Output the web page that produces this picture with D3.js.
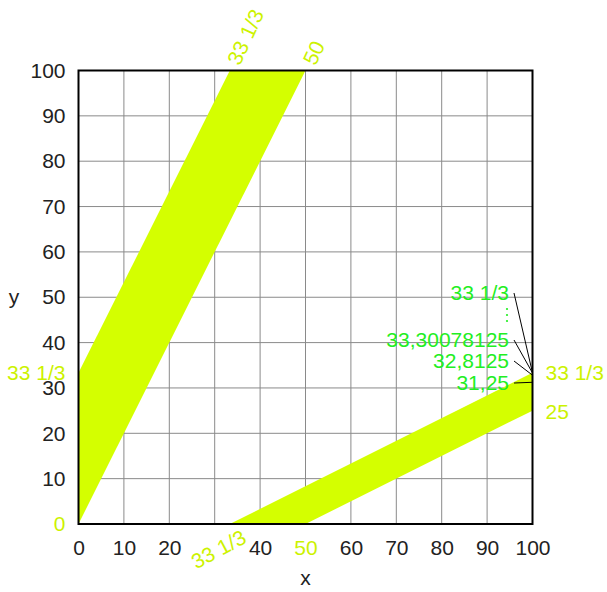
<!DOCTYPE html>
<html>
<head>
<meta charset="utf-8">
<script src="https://cdn.jsdelivr.net/npm/d3@7"></script>
<style>
  html, body { margin: 0; padding: 0; background: #fff; }
  svg { display: block; font-family: "Liberation Sans", Arial, sans-serif; }
</style>
</head>
<body>
<svg id="chart" width="607" height="592"></svg>
<script>
// Band polygons (x, y in data units)
const upperBand = [[0, 0], [0, 100 / 3], [100 / 3, 100], [50, 100]];
const lowerBand = [[100 / 3, 0], [50, 0], [100, 25], [100, 100 / 3]];

// Axis ticks
const xTicks = [0, 10, 20, 30, 40, 50, 60, 70, 80, 90, 100];
const yTicks = [0, 10, 20, 30, 40, 50, 60, 70, 80, 90, 100];
const xHiddenTicks = [30];
const xHighlightTicks = [50];
const yHighlightTicks = [0];

// Corner annotations
const topLabels = [{ v: 100 / 3, text: "33 1/3" }, { v: 50, text: "50" }];
const bottomLabels = [{ v: 100 / 3, text: "33 1/3" }];
const leftLabels = [{ v: 100 / 3, text: "33 1/3" }];
const rightLabels = [{ v: 100 / 3, text: "33 1/3" }, { v: 25, text: "25" }];

// Converging sequence at x = 100
const seqValues = [31.25, 32.8125, 33.30078125, 100 / 3];
const seqTexts = ["31,25", "32,8125", "33,30078125", "33 1/3"];
const seqTextY = [383, 361, 340, 293];

const bandColor = "#d4ff00";
const labelColor = "#ccf200";
const seqColor = "#22ee22";
const tickColor = "#222";
const fs = 21;

const svg = d3.select("#chart");
const pLeft = 78.5, pRight = 532.5, pTop = 70.5, pBottom = 524;
const x = d3.scaleLinear().domain([0, 100]).range([pLeft, pRight]);
const y = d3.scaleLinear().domain([0, 100]).range([pBottom, pTop]);

// Grid
const grid = svg.append("g").attr("stroke", "#8a8a8a").attr("stroke-width", 1);
grid.selectAll(".gx").data(xTicks.slice(1, -1)).join("line")
  .attr("x1", d => x(d)).attr("x2", d => x(d))
  .attr("y1", pTop).attr("y2", pBottom);
grid.selectAll(".gy").data(yTicks.slice(1, -1)).join("line")
  .attr("y1", d => y(d)).attr("y2", d => y(d))
  .attr("x1", pLeft).attr("x2", pRight);

// Bands
const line = d3.line().x(d => x(d[0])).y(d => y(d[1]));
svg.selectAll(".band").data([upperBand, lowerBand]).join("path")
  .attr("d", d => line(d) + "Z")
  .attr("fill", bandColor);

// Frame
svg.append("rect")
  .attr("x", pLeft).attr("y", pTop)
  .attr("width", pRight - pLeft).attr("height", pBottom - pTop)
  .attr("fill", "none").attr("stroke", "#000").attr("stroke-width", 2);

// X axis tick labels
const xAxis = d3.axisBottom(x).tickValues(xTicks.filter(t => !xHiddenTicks.includes(t)))
  .tickSize(0).tickPadding(16);
const gx = svg.append("g").attr("transform", `translate(0,${pBottom})`).call(xAxis);
gx.select(".domain").remove();
gx.selectAll("text")
  .attr("font-size", fs).attr("font-family", "Liberation Sans, Arial, sans-serif")
  .attr("fill", d => xHighlightTicks.includes(d) ? labelColor : tickColor);

// Y axis tick labels
const yAxis = d3.axisLeft(y).tickValues(yTicks).tickSize(0).tickPadding(13);
const gy = svg.append("g").attr("transform", `translate(${pLeft},0)`).call(yAxis);
gy.select(".domain").remove();
gy.selectAll("text")
  .attr("font-size", fs).attr("font-family", "Liberation Sans, Arial, sans-serif")
  .attr("fill", d => yHighlightTicks.includes(d) ? labelColor : tickColor);

// Axis titles
svg.append("text").attr("x", x(50)).attr("y", 585)
  .attr("text-anchor", "middle").attr("font-size", fs).attr("fill", tickColor).text("x");
svg.append("text").attr("x", 14).attr("y", y(50))
  .attr("text-anchor", "middle").attr("dy", "0.3em").attr("font-size", fs).attr("fill", tickColor).text("y");

// Top annotations (rotated)
svg.selectAll(".toplab").data(topLabels).join("text")
  .attr("transform", d => `translate(${x(d.v) + 10},${pTop - 4}) rotate(-65)`)
  .attr("font-size", fs).attr("fill", labelColor).text(d => d.text);

// Bottom annotation (rotated)
svg.selectAll(".botlab").data(bottomLabels).join("text")
  .attr("transform", d => `translate(${x(d.v) + 18},${pBottom + 18}) rotate(-28)`)
  .attr("text-anchor", "end")
  .attr("font-size", fs).attr("fill", labelColor).text(d => d.text);

// Left annotation
svg.selectAll(".leftlab").data(leftLabels).join("text")
  .attr("x", pLeft - 13).attr("y", d => y(d.v)).attr("dy", "0.35em")
  .attr("text-anchor", "end")
  .attr("font-size", fs).attr("fill", labelColor).text(d => d.text);

// Right annotations
svg.selectAll(".rightlab").data(rightLabels).join("text")
  .attr("x", pRight + 13).attr("y", (d, i) => y(d.v) + (i === 1 ? 1 : 0)).attr("dy", "0.35em")
  .attr("font-size", fs).attr("fill", labelColor).text(d => d.text);

// Sequence labels with leader lines
const seq = seqValues.map((v, i) => ({ v, text: seqTexts[i], ty: seqTextY[i] }));
svg.selectAll(".seqline").data(seq).join("line")
  .attr("x1", 514).attr("y1", d => d.ty)
  .attr("x2", pRight).attr("y2", d => y(d.v))
  .attr("stroke", "#000").attr("stroke-width", 1);
svg.selectAll(".seqlab").data(seq).join("text")
  .attr("x", 509).attr("y", d => d.ty).attr("dy", "0.35em")
  .attr("text-anchor", "end")
  .attr("font-size", fs).attr("fill", seqColor).text(d => d.text);
// vertical ellipsis between the last two entries
svg.selectAll(".dot").data([0, 1, 2]).join("circle")
  .attr("cx", 507).attr("cy", d => 309 + d * 6).attr("r", 1.1)
  .attr("fill", seqColor);
</script>
</body>
</html>
